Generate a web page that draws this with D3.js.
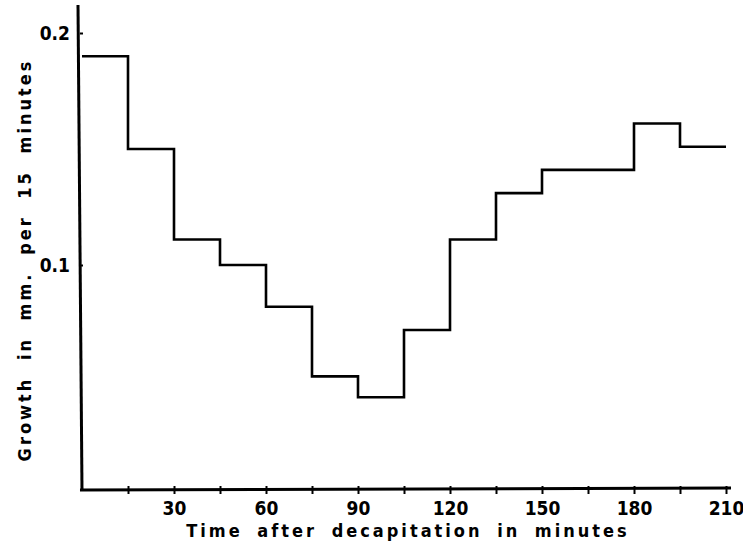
<!DOCTYPE html>
<html>
<head>
<meta charset="utf-8">
<script src="https://cdn.jsdelivr.net/npm/d3@7"></script>
<style>
  body { margin: 0; background: #fff; }
  text { font-family: "DejaVu Sans Condensed", "DejaVu Sans", sans-serif; font-weight: bold; fill: #000; }
</style>
</head>
<body>
<div id="chart"></div>
<script>
var svgWidth = 743;
var svgHeight = 550;

// interval start times (minutes) and growth per 15 min interval
var starts = [0, 15, 30, 45, 60, 75, 90, 105, 120, 135, 150, 165, 180, 195];
var growth = [0.19, 0.15, 0.111, 0.1, 0.082, 0.052, 0.043, 0.072, 0.111, 0.131, 0.141, 0.141, 0.161, 0.151];
var xTicks = [15, 30, 45, 60, 75, 90, 105, 120, 135, 150, 165, 180, 195, 210];
var yTicks = [0.1, 0.2];

var svg = d3.select("#chart")
  .append("svg")
  .attr("width", svgWidth)
  .attr("height", svgHeight);

var axisY0 = 490;

var xScale = d3.scaleLinear()
  .domain([0, 210])
  .range([82, 726]);

var yScale = d3.scaleLinear()
  .domain([0, 0.2])
  .range([497, 33]);

// step line
var stepData = starts.map(function(s, i) { return { t: s, v: growth[i] }; });
stepData.push({ t: 210, v: growth[growth.length - 1] });

var line = d3.line()
  .x(d => xScale(d.t))
  .y(d => yScale(d.v))
  .curve(d3.curveStepAfter);

svg.append("path")
  .datum(stepData)
  .attr("d", line)
  .attr("fill", "none")
  .attr("stroke", "#000")
  .attr("stroke-width", 2.6);

// x axis
var bottomAxis = d3.axisBottom(xScale)
  .tickValues(xTicks)
  .tickSize(4)
  .tickPadding(8)
  .tickFormat(d => d % 30 === 0 ? d : "");

var xg = svg.append("g")
  .attr("transform", `translate(0, ${axisY0})`)
  .call(bottomAxis);
xg.select(".domain").remove();
xg.selectAll(".tick line").attr("y1", -4).attr("stroke", "#000").attr("stroke-width", 2);
xg.selectAll(".tick text").attr("font-size", 19).attr("font-family", null);

svg.append("line")
  .attr("x1", 80).attr("x2", 731)
  .attr("y1", axisY0).attr("y2", axisY0 - 2)
  .attr("stroke", "#000").attr("stroke-width", 3);

// y axis
var leftAxis = d3.axisLeft(yScale)
  .tickValues(yTicks)
  .tickSize(4)
  .tickPadding(6)
  .tickFormat(d3.format(".1f"));

var yg = svg.append("g")
  .attr("transform", "translate(80, 0)")
  .call(leftAxis);
yg.select(".domain").remove();
yg.selectAll(".tick line").attr("x2", 3).attr("stroke", "#000").attr("stroke-width", 2);
yg.selectAll(".tick text").attr("font-size", 19).attr("font-family", null);

svg.append("line")
  .attr("x1", 78).attr("x2", 82)
  .attr("y1", 5).attr("y2", axisY0)
  .attr("stroke", "#000").attr("stroke-width", 3);

// axis labels
svg.append("text")
  .attr("x", 408)
  .attr("y", 537)
  .attr("text-anchor", "middle")
  .attr("font-size", 18)
  .attr("letter-spacing", "3px")
  .attr("word-spacing", "6px")
  .text("Time after decapitation in minutes");

svg.append("text")
  .attr("transform", "translate(31, 260) rotate(-90)")
  .attr("text-anchor", "middle")
  .attr("font-size", 18)
  .attr("letter-spacing", "3px")
  .attr("word-spacing", "8px")
  .text("Growth in mm. per 15 minutes");
</script>
</body>
</html>
